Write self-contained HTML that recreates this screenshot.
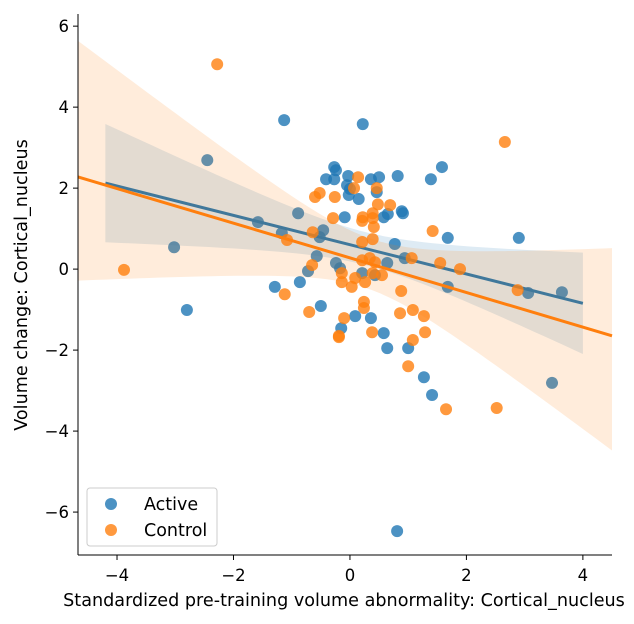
<!DOCTYPE html>
<html><head><meta charset="utf-8"><style>
body{margin:0;background:#fff;}
svg{display:block;font-family:"DejaVu Sans","Liberation Sans",sans-serif;}
</style></head><body>
<svg id="chart" width="634" height="624"></svg>
<script>
const activeX=[-1.13,0.22,-2.45,-0.27,-0.24,-0.41,-0.27,-0.03,0.36,0.50,0.82,1.58,1.39,-0.05,0,-0.02,0.15,0.46,0.89,0.91,0.58,0.65,-0.09,1.68,0.77,-0.89,-0.46,-0.52,-1.17,-1.58,-0.57,-0.24,-0.17,-0.72,-0.86,-1.29,0.21,0.43,0.64,0.94,1.68,-0.50,0.09,0.36,-0.15,0.58,0.64,1.00,1.27,1.41,2.90,3.06,3.64,3.47,0.81,-3.02,-2.80];
const activeY=[3.68,3.58,2.69,2.52,2.44,2.22,2.22,2.30,2.22,2.27,2.30,2.52,2.22,2.07,1.98,1.83,1.73,1.90,1.43,1.38,1.28,1.36,1.28,0.77,0.62,1.38,0.96,0.79,0.89,1.16,0.32,0.15,0.02,-0.05,-0.32,-0.44,-0.10,-0.15,0.15,0.27,-0.44,-0.91,-1.16,-1.21,-1.46,-1.58,-1.95,-1.95,-2.67,-3.11,0.77,-0.59,-0.57,-2.81,-6.47,0.54,-1.01];
const controlX=[-2.28,2.66,-3.88,-1.12,-0.70,-0.19,2.52,1.65,1.89,0.14,-0.52,-0.60,-0.26,0.46,0.07,0.48,0.69,0.39,0.22,0.21,-0.29,0.39,0.41,1.42,0.39,0.21,-0.64,-1.08,0.21,0.34,0.43,1.06,1.55,-0.65,-0.14,-0.14,0.03,0.09,0.26,0.39,0.55,0.88,0.24,0.24,-0.10,-0.19,0.38,0.86,1.08,1.27,1.29,1.08,1.00,2.88];
const controlY=[5.06,3.14,-0.02,-0.62,-1.06,-1.65,-3.43,-3.46,0,2.27,1.88,1.78,1.78,2.0,2.0,1.60,1.58,1.38,1.28,1.19,1.26,1.26,1.04,0.94,0.74,0.67,0.91,0.72,0.22,0.27,0.17,0.27,0.15,0.10,-0.10,-0.32,-0.44,-0.22,-0.32,-0.10,-0.15,-0.54,-0.81,-0.96,-1.21,-1.68,-1.56,-1.09,-1.01,-1.16,-1.56,-1.75,-2.40,-0.52];
const xTicks=[-4,-2,0,2,4];
const yTicks=[-6,-4,-2,0,2,4,6];
const activeSpan=[-4.2,4.0];
const controlSpan=[-4.67,4.5];
const xDomain=[-4.67,4.5], yDomain=[-7.06,6.3];

const L=78,R=612,T=14,B=555;
const sx=v=>L+(v-xDomain[0])/(xDomain[1]-xDomain[0])*(R-L);
const sy=v=>B-(v-yDomain[0])/(yDomain[1]-yDomain[0])*(B-T);
const svg=document.getElementById('chart');
const NS='http://www.w3.org/2000/svg';
function mk(tag,attrs,parent){const e=document.createElementNS(NS,tag);for(const k in attrs)e.setAttribute(k,attrs[k]);(parent||svg).appendChild(e);return e;}

function fit(xs,ys){const n=xs.length;const mx=xs.reduce((a,b)=>a+b)/n,my=ys.reduce((a,b)=>a+b)/n;let sxx=0,sxy=0;for(let i=0;i<n;i++){sxx+=(xs[i]-mx)**2;sxy+=(xs[i]-mx)*(ys[i]-my);}const b=sxy/sxx,a=my-b*mx;let sse=0;for(let i=0;i<n;i++)sse+=(ys[i]-a-b*xs[i])**2;const s=Math.sqrt(sse/(n-2));return {a,b,n,mx,sxx,s};}
function band(f,span,color,name,k,shift){
  const up=[],lo=[];
  for(let i=0;i<=60;i++){const x=span[0]+(span[1]-span[0])*i/60;const y=f.a+f.b*x;const se=f.s*Math.sqrt(1/f.n+(x-f.mx)**2/f.sxx)*k;const sh=shift*(f.mx-x);up.push(sx(x)+','+sy(y+se+sh));lo.unshift(sx(x)+','+sy(y-se+sh));}
  const p=mk('polygon',{points:up.concat(lo).join(' '),fill:color,'fill-opacity':0.15,stroke:'none'});
  
  
}
function line(f,span,color,name){
  const l=mk('line',{x1:sx(span[0]),y1:sy(f.a+f.b*span[0]),x2:sx(span[1]),y2:sy(f.a+f.b*span[1]),stroke:color,'stroke-width':3});
  
  
}
function pts(xs,ys,color,name){
  const g=mk('g',{});
  
  
  xs.forEach((x,i)=>{const c=mk('circle',{cx:sx(x),cy:sy(ys[i]),r:6,fill:color,'fill-opacity':0.8},g);
    
    });
}
const fa=fit(activeX,activeY), fc=fit(controlX,controlY);
const BLUE='#1f77b4',ORANGE='#ff7f0e';
pts(activeX,activeY,BLUE,'active');
band(fa,activeSpan,BLUE,'active',1.7,0);
line(fa,activeSpan,BLUE,'active');
pts(controlX,controlY,ORANGE,'control');
band(fc,controlSpan,ORANGE,'control',3.1,0.08);
line(fc,controlSpan,ORANGE,'control');

let a=mk('line',{x1:L,y1:T,x2:L,y2:B,stroke:'#000','stroke-width':1});

a=mk('line',{x1:L,y1:B,x2:R,y2:B,stroke:'#000','stroke-width':1});

xTicks.forEach(v=>{mk('line',{x1:sx(v),y1:B,x2:sx(v),y2:B+5,stroke:'#000'});
  const t=mk('text',{x:sx(v),y:B+26,'text-anchor':'middle','font-size':16.5});t.textContent=(v<0?'\u2212'+(-v):v);
  });
yTicks.forEach(v=>{mk('line',{x1:L-5,y1:sy(v),x2:L,y2:sy(v),stroke:'#000'});
  const t=mk('text',{x:L-9,y:sy(v)+6,'text-anchor':'end','font-size':16.5});t.textContent=(v<0?'\u2212'+(-v):v);
  });
let t=mk('text',{x:344,y:606,'text-anchor':'middle','font-size':17.6});t.textContent='Standardized pre-training volume abnormality: Cortical_nucleus';

t=mk('text',{x:0,y:0,'text-anchor':'middle','font-size':17.6,transform:'translate(27,285) rotate(-90)'});t.textContent='Volume change: Cortical_nucleus';

const lg=mk('g',{});

mk('rect',{x:87,y:488,width:130,height:58,rx:3,fill:'#fff','fill-opacity':0.8,stroke:'#ccc'},lg);
[['Active',BLUE,504],['Control',ORANGE,530]].forEach(([n,c,y])=>{
  const e=mk('g',{},lg);
  
  
  mk('circle',{cx:111,cy:y,r:6,fill:c,'fill-opacity':0.8},e);
  const tx=mk('text',{x:144,y:y+6,'font-size':17.5},e);tx.textContent=n;
});
</script>
</body></html>
